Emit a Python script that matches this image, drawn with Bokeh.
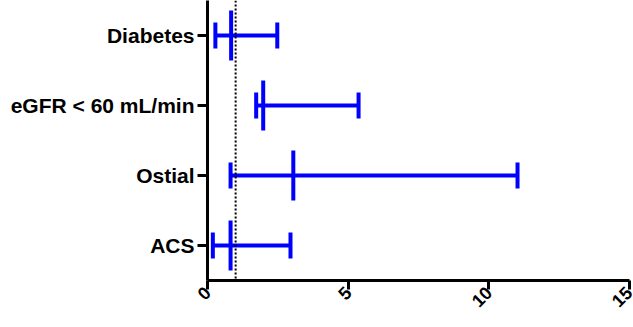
from bokeh.plotting import figure
from bokeh.models import ColumnDataSource, FactorRange, Range1d, Span, FixedTicker
from bokeh.embed import file_html
from bokeh.resources import INLINE
import math

categories = ["ACS", "Ostial", "eGFR < 60 mL/min", "Diabetes"]
estimate = [0.82, 3.05, 1.98, 0.84]
lower = [0.19, 0.82, 1.73, 0.28]
upper = [2.95, 11.02, 5.37, 2.48]
x_ticks = [0, 5, 10, 15]
ref_line = 1.0

BLUE = "#0000FF"
FONT = "Liberation Sans"

src = ColumnDataSource(dict(cat=categories, est=estimate, lo=lower, hi=upper))

p = figure(width=633, height=319, output_backend="svg", toolbar_location=None,
           y_range=FactorRange(factors=categories, range_padding=0),
           x_range=Range1d(0, 15))
p.min_border_left = 207
p.min_border_right = 4
p.min_border_top = 0
p.min_border_bottom = 39
p.outline_line_color = None
p.xgrid.visible = False
p.ygrid.visible = False
p.background_fill_color = "white"
p.border_fill_color = "white"

p.add_layout(Span(location=ref_line, dimension="height", line_color="black",
                  line_width=2, line_dash="2 2"))

p.segment(x0="lo", x1="hi", y0="cat", y1="cat", source=src,
          line_color=BLUE, line_width=4)
p.rect(x="lo", y="cat", width=4, height=26, width_units="screen",
       height_units="screen", source=src, fill_color=BLUE, line_color=None)
p.rect(x="hi", y="cat", width=4, height=26, width_units="screen",
       height_units="screen", source=src, fill_color=BLUE, line_color=None)
p.rect(x="est", y="cat", width=4, height=50, width_units="screen",
       height_units="screen", source=src, fill_color=BLUE, line_color=None)

for ax in (p.xaxis[0], p.yaxis[0]):
    ax.axis_line_width = 3
    ax.axis_line_color = "black"
    ax.major_tick_line_width = 3
    ax.major_tick_line_color = "black"
    ax.major_tick_out = 10
    ax.major_tick_in = 0
    ax.minor_tick_line_color = None
    ax.major_label_text_font = FONT
    ax.major_label_text_font_style = "bold"
    ax.major_label_text_color = "black"

p.yaxis.major_label_text_font_size = "21px"
p.yaxis.major_label_standoff = 3
p.xaxis.ticker = FixedTicker(ticks=x_ticks)
p.xaxis.major_tick_out = 9
p.xaxis.major_label_text_font_size = "18px"
p.xaxis.major_label_orientation = math.pi / 4
p.xaxis.major_label_standoff = 0

open("out.html", "w").write(file_html(p, INLINE))
